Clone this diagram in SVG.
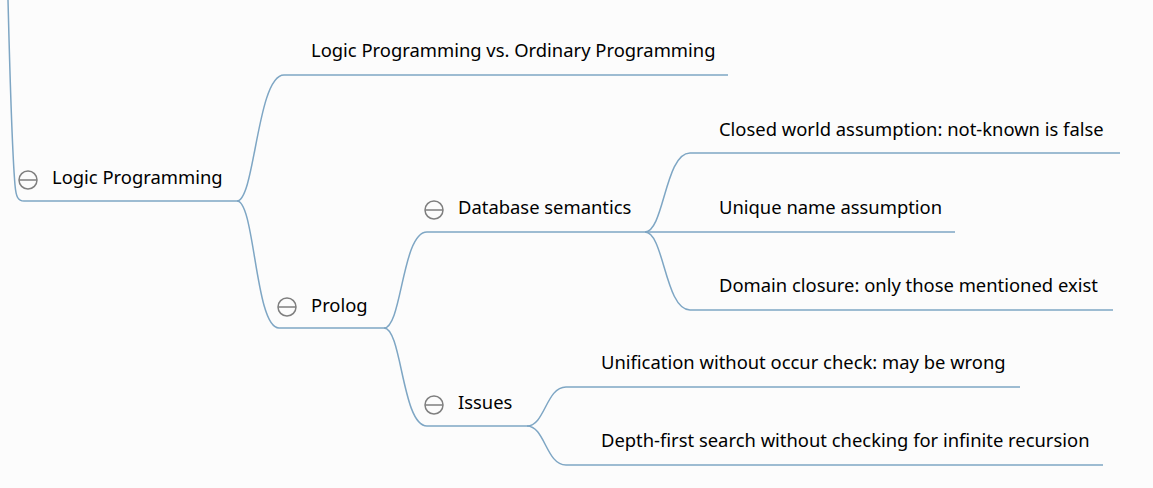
<svg xmlns="http://www.w3.org/2000/svg" width="1153" height="488" viewBox="0 0 1153 488">
<style>
.c{fill:none;stroke:#7ea6c4;stroke-width:1.5}
.t{font-family:"Noto Sans","Liberation Sans",sans-serif;font-size:18.4px;fill:#000}
.k circle{fill:none;stroke:#7f7f7f;stroke-width:1.5}
.k line{stroke:#7f7f7f;stroke-width:1.5}
</style>
<rect width="1153" height="488" fill="#fcfcfc"/>
<g id="connectors">
<path class="c" d="M8,0 C10,80 12,150 15,185 C16,197 18,201 24,201 L237,201"/>
<path class="c" d="M237,201 C255,201 257,75 284,75 L728,75"/>
<path class="c" d="M237,201 C255,201 255,328 279,328 L384,328"/>
<path class="c" d="M384,328 C402,328 402,232 427,232 L645,232"/>
<path class="c" d="M384,328 C402,328 402,426 427,426 L527,426"/>
<path class="c" d="M645,232 C664,232 665,153 690,153 L1120,153"/>
<path class="c" d="M645,232 L955,232"/>
<path class="c" d="M645,232 C664,232 665,310 690,310 L1113,310"/>
<path class="c" d="M527,426 C545,426 546,387 566,387 L1020,387"/>
<path class="c" d="M527,426 C545,426 546,465 566,465 L1103,465"/>
</g>
<g id="n-logic">
<g class="k"><circle cx="28" cy="180" r="9"/><line x1="19" y1="180" x2="37" y2="180"/></g>
<text class="t" x="52" y="184">Logic Programming</text>
</g>
<g id="n-vs">
<text class="t" x="311" y="57">Logic Programming vs. Ordinary Programming</text>
</g>
<g id="n-prolog">
<g class="k"><circle cx="287" cy="307" r="9"/><line x1="278" y1="307" x2="296" y2="307"/></g>
<text class="t" x="311" y="312">Prolog</text>
</g>
<g id="n-db">
<g class="k"><circle cx="434" cy="210" r="9"/><line x1="425" y1="210" x2="443" y2="210"/></g>
<text class="t" x="458" y="214">Database semantics</text>
</g>
<g id="n-issues">
<g class="k"><circle cx="434" cy="405" r="9"/><line x1="425" y1="405" x2="443" y2="405"/></g>
<text class="t" x="458" y="409">Issues</text>
</g>
<g id="n-cwa"><text class="t" x="719" y="136">Closed world assumption: not-known is false</text></g>
<g id="n-una"><text class="t" x="719" y="214">Unique name assumption</text></g>
<g id="n-dc"><text class="t" x="719" y="292">Domain closure: only those mentioned exist</text></g>
<g id="n-unif"><text class="t" x="601" y="369">Unification without occur check: may be wrong</text></g>
<g id="n-dfs"><text class="t" x="601" y="447">Depth-first search without checking for infinite recursion</text></g>
</svg>
